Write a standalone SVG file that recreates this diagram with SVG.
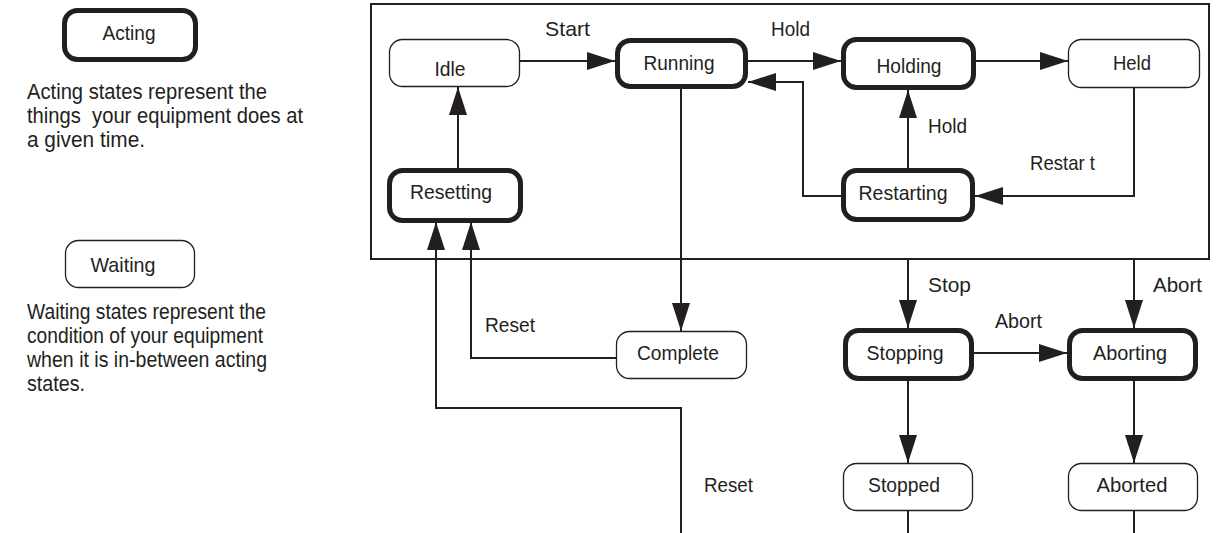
<svg xmlns="http://www.w3.org/2000/svg" width="1216" height="533" viewBox="0 0 1216 533">
<style>
text{font-family:"Liberation Sans",Arial,sans-serif;font-size:21px;fill:#231f20}
.p{font-size:22px}
.c{text-anchor:middle}
.wait{fill:#fff;stroke:#231f20;stroke-width:1.3}
.act{fill:#fff;stroke:#231f20;stroke-width:5}
.ln{fill:none;stroke:#231f20;stroke-width:2}
.frame{fill:none;stroke:#231f20;stroke-width:2}
</style>
<defs>
<marker id="ah" markerUnits="userSpaceOnUse" markerWidth="28" markerHeight="18" refX="28" refY="9" orient="auto" viewBox="0 0 28 18">
<path d="M0,0 L28,9 L0,18 z" fill="#231f20"/>
</marker>
</defs>
<rect class="frame" x="371" y="4" width="838" height="255"/>
<g id="legend-acting">
<rect class="act" x="64.5" y="10.5" width="131" height="49" rx="13"/>
<text class="c" x="129" y="40" textLength="53" lengthAdjust="spacingAndGlyphs">Acting</text>
<text class="p" x="27" y="99" textLength="240" lengthAdjust="spacingAndGlyphs">Acting states represent the</text>
<text class="p" x="27" y="123" textLength="276" lengthAdjust="spacingAndGlyphs" xml:space="preserve">things  your equipment does at</text>
<text class="p" x="27" y="147" textLength="118" lengthAdjust="spacingAndGlyphs">a given time.</text>
</g>
<g id="legend-waiting">
<rect class="wait" x="65.5" y="240.5" width="129" height="47" rx="13"/>
<text class="c" x="123" y="272" textLength="65" lengthAdjust="spacingAndGlyphs">Waiting</text>
<text class="p" x="27" y="319" textLength="239" lengthAdjust="spacingAndGlyphs">Waiting states represent the</text>
<text class="p" x="27" y="343" textLength="236" lengthAdjust="spacingAndGlyphs">condition of your equipment</text>
<text class="p" x="27" y="367" textLength="240" lengthAdjust="spacingAndGlyphs">when it is in-between acting</text>
<text class="p" x="27" y="391" textLength="58" lengthAdjust="spacingAndGlyphs">states.</text>
</g>
<g id="connectors">
<path class="ln" d="M520,61 L615,61" marker-end="url(#ah)"/>
<path class="ln" d="M748,61 L841,61" marker-end="url(#ah)"/>
<path class="ln" d="M976,61 L1068,61" marker-end="url(#ah)"/>
<path class="ln" d="M1134,88 L1134,196 L975,196" marker-end="url(#ah)"/>
<path class="ln" d="M841,196 L803,196 L803,82 L748,82" marker-end="url(#ah)"/>
<path class="ln" d="M908,168 L908,90" marker-end="url(#ah)"/>
<path class="ln" d="M458,168 L458,87" marker-end="url(#ah)"/>
<path class="ln" d="M681,89 L681,331" marker-end="url(#ah)"/>
<path class="ln" d="M616,358 L471,358 L471,222" marker-end="url(#ah)"/>
<path class="ln" d="M681,533 L681,408 L436,408 L436,222" marker-end="url(#ah)"/>
<path class="ln" d="M908,259 L908,328" marker-end="url(#ah)"/>
<path class="ln" d="M1134,259 L1134,328" marker-end="url(#ah)"/>
<path class="ln" d="M974,353 L1067,353" marker-end="url(#ah)"/>
<path class="ln" d="M908,381 L908,463" marker-end="url(#ah)"/>
<path class="ln" d="M1134,381 L1134,463" marker-end="url(#ah)"/>
<path class="ln" d="M908,511 L908,533"/>
<path class="ln" d="M1134,511 L1134,533"/>
<text x="545" y="36" textLength="45" lengthAdjust="spacingAndGlyphs">Start</text>
<text x="771" y="36" textLength="39" lengthAdjust="spacingAndGlyphs">Hold</text>
<text x="928" y="133" textLength="39" lengthAdjust="spacingAndGlyphs">Hold</text>
<text x="1030" y="170" textLength="65" lengthAdjust="spacingAndGlyphs" xml:space="preserve">Restar t</text>
<text x="928" y="292" textLength="43" lengthAdjust="spacingAndGlyphs">Stop</text>
<text x="1153" y="292" textLength="49" lengthAdjust="spacingAndGlyphs">Abort</text>
<text x="995" y="328" textLength="47" lengthAdjust="spacingAndGlyphs">Abort</text>
<text x="485" y="332" textLength="50" lengthAdjust="spacingAndGlyphs">Reset</text>
<text x="704" y="492" textLength="49" lengthAdjust="spacingAndGlyphs">Reset</text>
</g>
<g id="idle"><rect class="wait" x="389.5" y="39.5" width="130" height="47" rx="13"/><text class="c" x="450" y="76" textLength="31" lengthAdjust="spacingAndGlyphs">Idle</text></g>
<g id="running"><rect class="act" x="617.5" y="40.5" width="128" height="46" rx="13"/><text class="c" x="679" y="70" textLength="71" lengthAdjust="spacingAndGlyphs">Running</text></g>
<g id="holding"><rect class="act" x="843.5" y="39.5" width="130" height="48" rx="13"/><text class="c" x="909" y="73" textLength="65" lengthAdjust="spacingAndGlyphs">Holding</text></g>
<g id="held"><rect class="wait" x="1068.5" y="39.5" width="131" height="48" rx="13"/><text class="c" x="1132" y="70" textLength="38" lengthAdjust="spacingAndGlyphs">Held</text></g>
<g id="resetting"><rect class="act" x="389.5" y="170.5" width="131" height="50" rx="13"/><text class="c" x="451" y="199" textLength="82" lengthAdjust="spacingAndGlyphs">Resetting</text></g>
<g id="restarting"><rect class="act" x="843.5" y="170.5" width="129" height="49" rx="13"/><text class="c" x="903" y="200" textLength="89" lengthAdjust="spacingAndGlyphs">Restarting</text></g>
<g id="complete"><rect class="wait" x="616.5" y="331.5" width="130" height="47" rx="13"/><text class="c" x="678" y="360" textLength="82" lengthAdjust="spacingAndGlyphs">Complete</text></g>
<g id="stopping"><rect class="act" x="845.5" y="330.5" width="126" height="48" rx="13"/><text class="c" x="905" y="360" textLength="77" lengthAdjust="spacingAndGlyphs">Stopping</text></g>
<g id="aborting"><rect class="act" x="1069.5" y="330.5" width="126" height="48" rx="13"/><text class="c" x="1130" y="360" textLength="74" lengthAdjust="spacingAndGlyphs">Aborting</text></g>
<g id="stopped"><rect class="wait" x="843.5" y="463.5" width="129" height="47" rx="13"/><text class="c" x="904" y="492" textLength="72" lengthAdjust="spacingAndGlyphs">Stopped</text></g>
<g id="aborted"><rect class="wait" x="1068.5" y="463.5" width="129" height="47" rx="13"/><text class="c" x="1132" y="492" textLength="71" lengthAdjust="spacingAndGlyphs">Aborted</text></g>
</svg>
